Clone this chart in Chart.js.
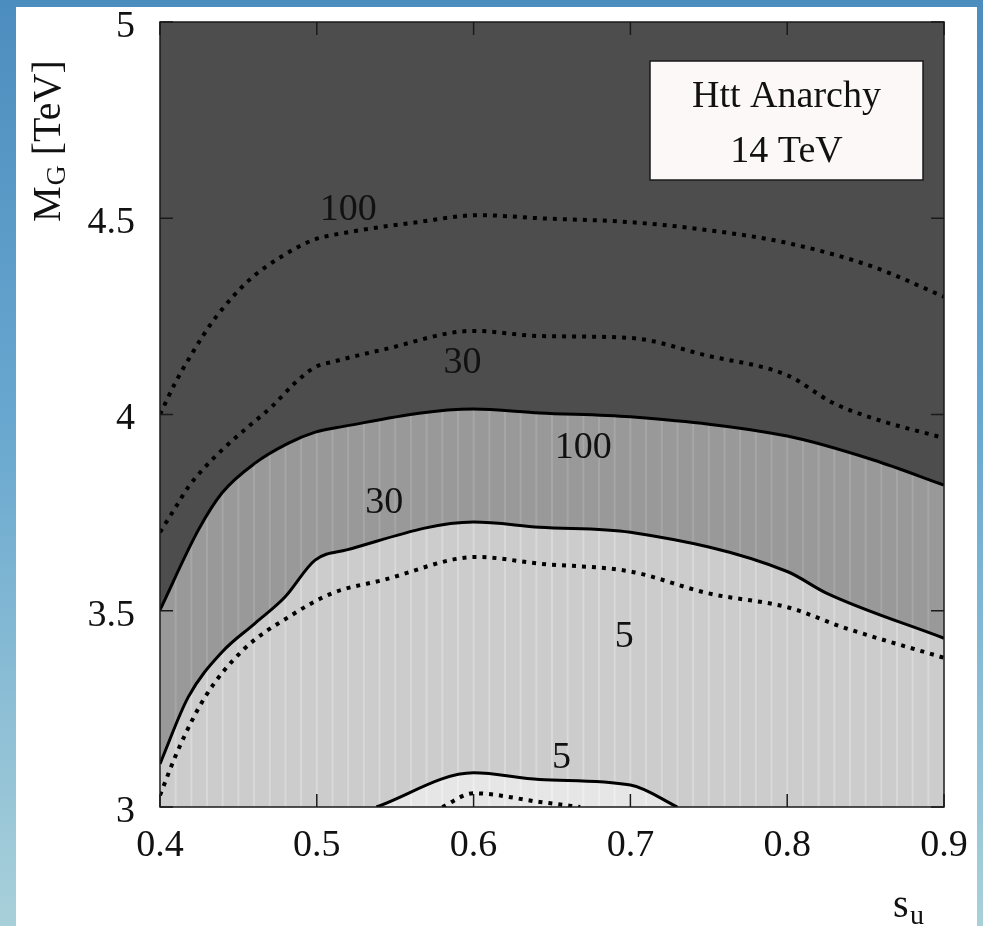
<!DOCTYPE html>
<html>
<head>
<meta charset="utf-8">
<script src="https://cdn.jsdelivr.net/npm/chart.js@4.4.1/dist/chart.umd.min.js"></script>
<style>
html,body{margin:0;padding:0;}
body{width:983px;height:926px;overflow:hidden;position:relative;
  background:linear-gradient(to bottom,#4c8dbf 0%,#68a7cf 45%,#a8d0da 100%);}
#panel{position:absolute;left:16px;top:7px;width:961px;height:919px;background:#fff;}
#chart{position:absolute;left:0;top:0;}
</style>
</head>
<body>
<div id="panel"></div>
<canvas id="chart" width="983" height="926"></canvas>
<script>
// contour data (x = s_u, y = M_G in TeV)
const solid100X = [0.40, 0.4245, 0.4395, 0.4606, 0.482, 0.499, 0.512, 0.60, 0.642, 0.70, 0.80, 0.855, 0.90];
const solid100Y = [3.502, 3.706, 3.80, 3.876, 3.927, 3.955, 3.966, 4.014, 4.004, 3.994, 3.945, 3.884, 3.82];

const solid30X = [0.40, 0.418, 0.4396, 0.4606, 0.4797, 0.4989, 0.519, 0.60, 0.642, 0.70, 0.80, 0.825, 0.90];
const solid30Y = [3.11, 3.28, 3.395, 3.468, 3.535, 3.629, 3.655, 3.726, 3.713, 3.70, 3.60, 3.545, 3.43];

const solid5X = [0.538, 0.60, 0.642, 0.70, 0.73];
const solid5Y = [3.0, 3.087, 3.07, 3.056, 3.0];

const dotted100X = [0.40, 0.4096, 0.418, 0.427, 0.436, 0.457, 0.479, 0.498, 0.521, 0.564, 0.604, 0.642, 0.70, 0.749, 0.80, 0.855, 0.90];
const dotted100Y = [4.0, 4.08, 4.139, 4.198, 4.25, 4.343, 4.406, 4.445, 4.465, 4.49, 4.508, 4.50, 4.49, 4.47, 4.437, 4.376, 4.30];

const dotted30X = [0.40, 0.41, 0.418, 0.4287, 0.4415, 0.456, 0.471, 0.486, 0.499, 0.51, 0.542, 0.60, 0.642, 0.70, 0.749, 0.80, 0.829, 0.855, 0.90];
const dotted30Y = [3.70, 3.764, 3.815, 3.866, 3.917, 3.968, 4.019, 4.08, 4.121, 4.134, 4.165, 4.213, 4.20, 4.195, 4.15, 4.10, 4.03, 3.99, 3.94];

const dotted5X = [0.40, 0.4115, 0.4287, 0.453, 0.484, 0.51, 0.542, 0.602, 0.642, 0.70, 0.749, 0.802, 0.834, 0.90];
const dotted5Y = [3.03, 3.145, 3.28, 3.40, 3.489, 3.545, 3.578, 3.637, 3.62, 3.60, 3.545, 3.507, 3.46, 3.38];

const dottedLowX = [0.58, 0.60, 0.642, 0.668];
const dottedLowY = [3.0, 3.035, 3.013, 3.0];

// contour labels
const contourLabels = ['100', '30', '100', '30', '5', '5'];
const contourLabelX = [0.520, 0.593, 0.670, 0.543, 0.696, 0.656];
const contourLabelY = [4.496, 4.106, 3.889, 3.749, 3.408, 3.099];

const legendLines = ['Htt Anarchy', '14 TeV'];

const SERIF = "'Liberation Serif', 'DejaVu Serif', serif";

function pts(xs, ys){ return xs.map((x, i) => ({x: x, y: ys[i]})); }

// vertical streaks like the original rasterised fill
function stripes(base, streak){
  const c = document.createElement('canvas');
  c.width = 16; c.height = 4;
  const g = c.getContext('2d');
  g.fillStyle = base; g.fillRect(0, 0, 16, 4);
  g.fillStyle = streak; g.fillRect(0, 0, 2, 4);
  const p = g.createPattern(c, 'repeat');
  p.setTransform(new DOMMatrix([15.68 / 16, 0, 0, 1, 2.2, 0]));
  return p;
}

function solid(data, bg, order){
  return {data: data, borderColor: '#000', borderWidth: 3, backgroundColor: bg,
          fill: 'start', pointRadius: 0, order: order, cubicInterpolationMode: 'monotone'};
}
function dotted(data){
  return {data: data, borderColor: '#000', borderWidth: 4, borderDash: [4, 6],
          fill: false, pointRadius: 0, order: 0, cubicInterpolationMode: 'monotone'};
}

const bgPlugin = {
  id: 'bg',
  beforeDatasetsDraw(chart){
    const a = chart.chartArea, ctx = chart.ctx;
    ctx.save();
    ctx.fillStyle = '#4d4d4d';
    ctx.fillRect(a.left, a.top, a.right - a.left, a.bottom - a.top);
    ctx.restore();
  }
};

const decoPlugin = {
  id: 'deco',
  afterDatasetsDraw(chart){
    const a = chart.chartArea, ctx = chart.ctx;
    const xs = chart.scales.x, ys = chart.scales.y;
    ctx.save();
    // frame + inward ticks
    ctx.strokeStyle = '#1a1a1a';
    ctx.lineWidth = 1.5;
    ctx.strokeRect(a.left, a.top, a.right - a.left, a.bottom - a.top);
    ctx.beginPath();
    xs.ticks.forEach(t => {
      const px = xs.getPixelForValue(t.value);
      ctx.moveTo(px, a.bottom); ctx.lineTo(px, a.bottom - 13);
      ctx.moveTo(px, a.top); ctx.lineTo(px, a.top + 13);
    });
    ys.ticks.forEach(t => {
      const py = ys.getPixelForValue(t.value);
      ctx.moveTo(a.left, py); ctx.lineTo(a.left + 13, py);
      ctx.moveTo(a.right, py); ctx.lineTo(a.right - 13, py);
    });
    ctx.stroke();

    // contour labels
    ctx.fillStyle = '#111';
    ctx.font = '38px ' + SERIF;
    ctx.textAlign = 'center';
    ctx.textBaseline = 'alphabetic';
    contourLabels.forEach((s, i) => {
      ctx.fillText(s, xs.getPixelForValue(contourLabelX[i]), ys.getPixelForValue(contourLabelY[i]));
    });

    // legend box
    const bw = 273, bh = 119;
    const bx = a.right - 21 - bw, by = a.top + 39;
    ctx.fillStyle = '#fdf8f8';
    ctx.fillRect(bx, by, bw, bh);
    ctx.strokeStyle = '#1a1a1a';
    ctx.lineWidth = 1.5;
    ctx.strokeRect(bx, by, bw, bh);
    ctx.fillStyle = '#111';
    ctx.fillText(legendLines[0], bx + bw / 2, by + 46);
    ctx.fillText(legendLines[1], bx + bw / 2, by + 101);
    ctx.restore();
  },
  afterDraw(chart){
    const ctx = chart.ctx;
    ctx.save();
    ctx.fillStyle = '#111';
    ctx.textBaseline = 'alphabetic';
    ctx.textAlign = 'left';
    // y title: M_G [TeV]
    ctx.translate(60, 222);
    ctx.rotate(-Math.PI / 2);
    ctx.font = '40px ' + SERIF;
    ctx.fillText('M', 0, 0);
    let w = ctx.measureText('M').width;
    ctx.font = '28px ' + SERIF;
    ctx.fillText('G', w + 1, 5);
    w += ctx.measureText('G').width + 1;
    ctx.font = '40px ' + SERIF;
    ctx.fillText(' [TeV]', w, 0);
    ctx.restore();
    // x title: s_u
    ctx.save();
    ctx.fillStyle = '#111';
    ctx.textAlign = 'left';
    ctx.font = '40px ' + SERIF;
    ctx.fillText('s', 893, 917);
    ctx.font = '28px ' + SERIF;
    ctx.fillText('u', 910, 924);
    ctx.restore();
  }
};

new Chart(document.getElementById('chart'), {
  type: 'line',
  data: {
    datasets: [
      dotted(pts(dotted100X, dotted100Y)),
      dotted(pts(dotted30X, dotted30Y)),
      dotted(pts(dotted5X, dotted5Y)),
      dotted(pts(dottedLowX, dottedLowY)),
      solid(pts(solid5X, solid5Y), stripes('#e6e6e6', '#eeeeee'), 1),
      solid(pts(solid30X, solid30Y), stripes('#cccccc', '#d9d9d9'), 2),
      solid(pts(solid100X, solid100Y), stripes('#999999', '#a6a6a6'), 3)
    ]
  },
  options: {
    responsive: false,
    animation: false,
    layout: {padding: {top: 22, right: 39, left: 0, bottom: 0}},
    plugins: {legend: {display: false}, tooltip: {enabled: false}},
    scales: {
      x: {
        type: 'linear', min: 0.4, max: 0.9,
        grid: {display: false, drawTicks: false},
        border: {display: false},
        ticks: {stepSize: 0.1, padding: 20, color: '#111', font: {family: SERIF, size: 38, lineHeight: 1},
                callback: v => v.toFixed(1)},
        afterFit(s){ s.height = 119; s.paddingLeft = 0; s.paddingRight = 0; }
      },
      y: {
        type: 'linear', min: 3, max: 5,
        grid: {display: false, drawTicks: false},
        border: {display: false},
        ticks: {stepSize: 0.5, padding: 25, labelOffset: 5, color: '#111', font: {family: SERIF, size: 38, lineHeight: 1},
                callback: v => String(Math.round(v * 10) / 10)},
        afterFit(s){ s.width = 160; s.paddingTop = 0; s.paddingBottom = 0; }
      }
    }
  },
  plugins: [bgPlugin, decoPlugin]
});
</script>
</body>
</html>
